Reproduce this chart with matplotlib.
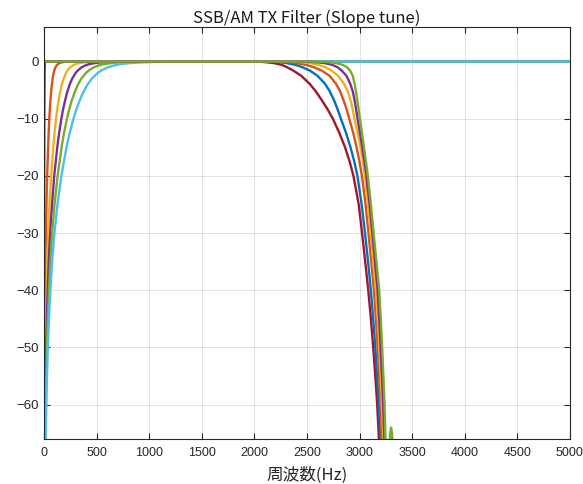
import matplotlib
matplotlib.use("Agg")
import matplotlib.pyplot as plt

plt.rcParams['font.family'] = ['Noto Sans CJK JP', 'DejaVu Sans']

# MATLAB default colour order
C_BLUE = '#0072BD'
C_ORANGE = '#D95319'
C_YELLOW = '#EDB120'
C_PURPLE = '#7E2F8E'
C_GREEN = '#77AC30'
C_LBLUE = '#4DBEEE'
C_DRED = '#A2142F'

# Low-cut (high-pass) slopes: shared gain levels (dB), frequency (Hz) per curve
hp_levels = [-90, -66, -58, -50, -45, -40, -35, -30, -25, -20, -15, -12.5, -10, -8.5,
             -7, -5.5, -4, -3, -2, -1.5, -1, -0.7, -0.5, -0.3, -0.2, -0.1, -0.05,
             -0.02, 0, 0]
hp_blue = [0.06, 0.2, 0.3, 0.4, 0.6, 0.7, 0.9, 1.2, 1.5, 2, 2.6, 2.9, 3.4, 3.7, 4,
           4.4, 5, 5.5, 6.1, 6.6, 7.3, 8, 8.7, 9.7, 10.7, 12.5, 14.5, 17.8, 24, 5000]
hp_orange = [1, 2.9, 4.3, 6.5, 8.4, 11, 14, 18, 23, 30, 39, 44, 50, 55, 60, 67, 75,
             82, 92, 99, 110, 120, 130, 146, 160, 187, 218, 267, 360, 5000]
hp_yellow = [2, 6.6, 10, 15, 19, 25, 32, 41, 52, 68, 88, 100, 115, 125, 137, 152,
             170, 187, 210, 226, 251, 273, 296, 333, 364, 426, 497, 608, 820, 5000]
hp_purple = [3, 9.4, 14, 21, 27, 35, 45, 59, 76, 97, 126, 144, 165, 180, 198, 218,
             245, 268, 301, 326, 360, 394, 425, 478, 524, 613, 714, 875, 1180, 5000]
hp_green = [4, 12.5, 19, 28, 36, 47, 60, 77, 100, 129, 167, 190, 218, 238, 261, 289,
            324, 355, 399, 431, 477, 520, 562, 633, 693, 810, 945, 1157, 1560, 5000]
hp_lblue = [5, 16, 24, 36, 47, 60, 77, 99, 128, 165, 214, 244, 280, 305, 335, 370,
            415, 455, 511, 552, 611, 667, 721, 811, 889, 1039, 1211, 1483, 2000, 5000]

# High-cut (low-pass) slopes: shared gain levels (dB), frequency (Hz) per curve
lp_levels = [0, 0, -0.05, -0.15, -0.3, -0.6, -1, -1.6, -2.5, -3.9, -5.2, -6.8, -8.3,
             -10, -12.5, -15, -17.5, -20, -25, -30, -35, -40, -45, -50, -55, -60, -70]
lp_dred = [0, 1900, 2050, 2120, 2190, 2260, 2310, 2370, 2445, 2525, 2583, 2642, 2694,
           2746, 2808, 2862, 2906, 2942, 2992, 3024, 3054, 3083, 3108, 3130, 3150,
           3168, 3195]
lp_blue = [0, 2050, 2180, 2250, 2310, 2390, 2455, 2528, 2600, 2671, 2716, 2758, 2790,
           2822, 2872, 2914, 2950, 2980, 3020, 3052, 3081, 3108, 3130, 3150, 3167,
           3183, 3208]
lp_orange = [0, 2150, 2270, 2340, 2400, 2490, 2565, 2640, 2715, 2776, 2815, 2848,
             2876, 2902, 2940, 2972, 2999, 3023, 3057, 3085, 3111, 3137, 3156, 3172,
             3187, 3200, 3222]
lp_yellow = [0, 2250, 2390, 2460, 2530, 2610, 2675, 2735, 2795, 2852, 2888, 2915,
             2934, 2952, 2982, 3009, 3032, 3051, 3080, 3106, 3131, 3156, 3173, 3188,
             3201, 3213, 3233]
lp_purple = [0, 2350, 2520, 2600, 2670, 2740, 2790, 2830, 2875, 2912, 2935, 2953,
             2967, 2981, 3004, 3026, 3047, 3066, 3096, 3122, 3147, 3172, 3187, 3200,
             3213, 3225, 3243]
lp_green = [0, 2450, 2640, 2720, 2780, 2840, 2880, 2910, 2935, 2953, 2965, 2979,
            2991, 3004, 3023, 3042, 3061, 3079, 3108, 3134, 3161, 3187, 3202, 3215,
            3227, 3238, 3252]
# stop-band ripple of the steepest slope
lp_green_lobe_f = [3262, 3272, 3282, 3291, 3300, 3309, 3318, 3328, 3338]
lp_green_lobe_db = [-100, -75, -68, -65, -64, -65, -68, -75, -100]

fig = plt.figure(figsize=(5.83, 4.84), dpi=100)
ax = fig.add_axes([0.0755, 0.093, 0.902, 0.851])

lw = 1.7
hp_set = [(hp_blue, C_BLUE), (hp_orange, C_ORANGE), (hp_yellow, C_YELLOW),
          (hp_purple, C_PURPLE), (hp_green, C_GREEN), (hp_lblue, C_LBLUE)]
for f, c in hp_set:
    ax.plot(f, hp_levels, color=c, lw=lw)

lp_set = [(lp_dred, C_DRED), (lp_blue, C_BLUE), (lp_orange, C_ORANGE),
          (lp_yellow, C_YELLOW), (lp_purple, C_PURPLE)]
for f, c in lp_set:
    ax.plot(f, lp_levels, color=c, lw=lw)
ax.plot(lp_green + lp_green_lobe_f, lp_levels + lp_green_lobe_db, color=C_GREEN, lw=lw)

ax.set_xlim(0, 5000)
ax.set_ylim(-66, 6)
ax.set_xticks(range(0, 5001, 500))
ax.set_yticks(range(-60, 1, 10))
ax.set_yticklabels([str(v).replace('-', '\u2212') for v in range(-60, 1, 10)])

ax.grid(True, color='#262626', alpha=0.15, lw=0.6)
ax.set_axisbelow(True)
ax.tick_params(direction='in', top=True, right=True, length=4, width=0.8,
               colors='#262626', labelsize=9, labelcolor='#262626')
ax.tick_params(axis='x', pad=6)
ax.tick_params(axis='y', labelsize=9.5)
for lab in ax.get_xticklabels() + ax.get_yticklabels():
    lab.set_family(['Liberation Sans', 'DejaVu Sans'])
for s in ax.spines.values():
    s.set_color('#262626')
    s.set_linewidth(0.8)

ax.set_title('SSB/AM TX Filter (Slope tune)', fontsize=12, color='#1a1a1a', pad=3)
ax.set_xlabel('周波数(Hz)', fontsize=12, color='#262626', labelpad=5)

fig.savefig('out.png', dpi=100)
